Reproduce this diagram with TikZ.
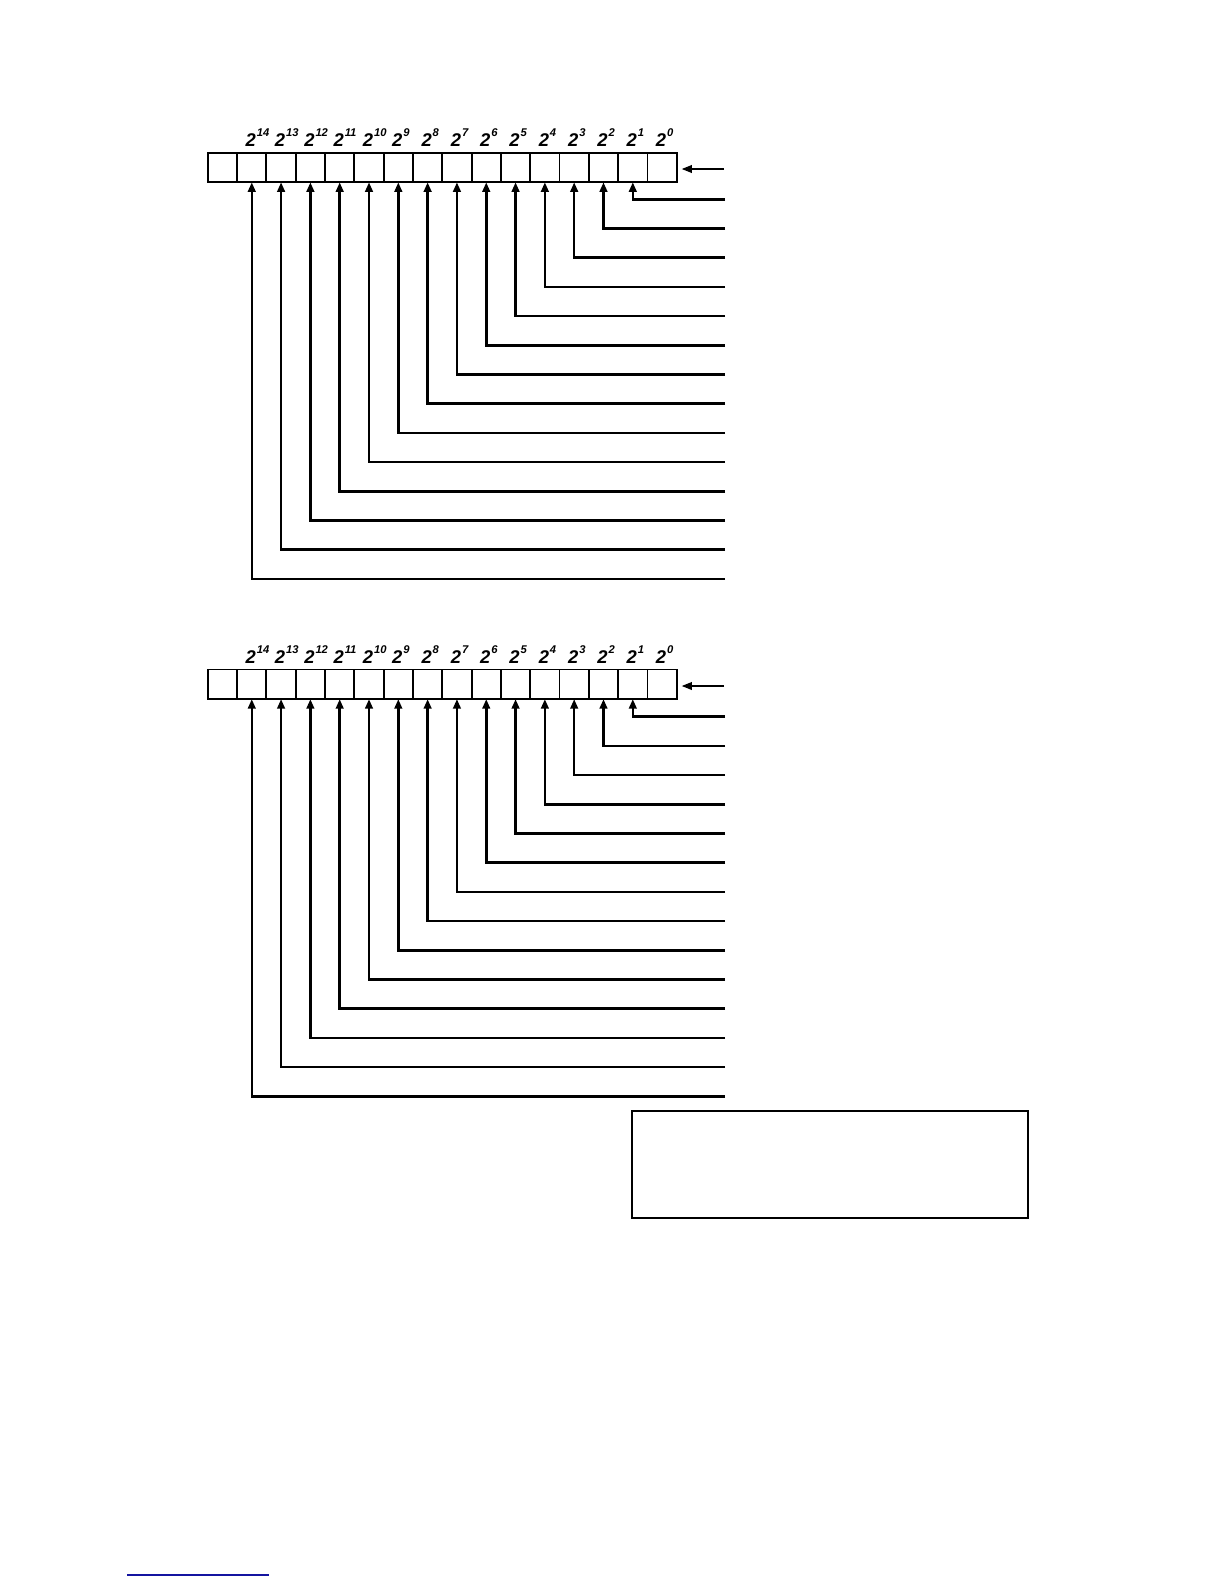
\documentclass[tikz,border=0pt]{standalone}
\usepackage{fontspec}
\setmainfont{Liberation Sans}
\usepackage{tikz}
\usetikzlibrary{arrows.meta,positioning}

\newcommand{\pw}[1]{\fontsize{9.2}{11}\selectfont\bfseries\itshape 2\rlap{\hspace{0.5pt}\raisebox{5.2pt}{\fontsize{5.6}{6}\selectfont #1}}}

\begin{document}
\begin{tikzpicture}[x=0.5pt,y=-0.5pt,
  cell/.style={draw,line width=0.95pt,minimum width=14.65pt,minimum height=14.8pt,inner sep=0pt,outer sep=0pt},
  bitlbl/.style={inner sep=0pt,anchor=south},
  feed/.style={line width=1.25pt,-{Triangle[length=4.8pt,width=3.8pt]}},
  inarrow/.style={line width=0.75pt,-{Triangle[length=5pt,width=3.8pt]},shorten >=2.5pt}]
\useasboundingbox (0,0) rectangle (1224,1584);

\foreach \i in {1,...,16} {
  \node[cell] (a\i) at ({207.8+29.31*(\i-0.5)},167.5) {};
  \node[cell] (b\i) at ({207.8+29.31*(\i-0.5)},684.3) {};
}

\foreach \e [count=\i from 2] in {14,13,...,0} {
  \node[bitlbl,above=2.8pt of a\i.north,xshift=-0.5pt] (la\i) {\pw{\e}};
  \node[bitlbl,above=2.8pt of b\i.north,xshift=-0.5pt] (lb\i) {\pw{\e}};
}

\coordinate (ina) at (724,169);
\coordinate (inb) at (724,686);
\draw[inarrow] (ina) -- (a16.east |- ina);
\draw[inarrow] (inb) -- (b16.east |- inb);

\foreach \k in {1,...,14} {
  \pgfmathtruncatemacro{\j}{16-\k}
  \coordinate (ra\k) at (725,{199.3+29.2*(\k-1)});
  \coordinate (rb\k) at (725,{716.7+29.2*(\k-1)});
  \draw[feed] (ra\k) -| (a\j.south);
  \draw[feed] (rb\k) -| (b\j.south);
}

\node[draw,line width=0.75pt,minimum width=198pt,minimum height=53.5pt,inner sep=0pt] (note) at (830,1164.3) {};

\coordinate (ul1) at (127,1575);
\coordinate (ul2) at (269,1575);
\draw[line width=0.8pt,color={rgb,255:red,20;green,20;blue,160}] (ul1) -- (ul2);
\end{tikzpicture}
\end{document}
